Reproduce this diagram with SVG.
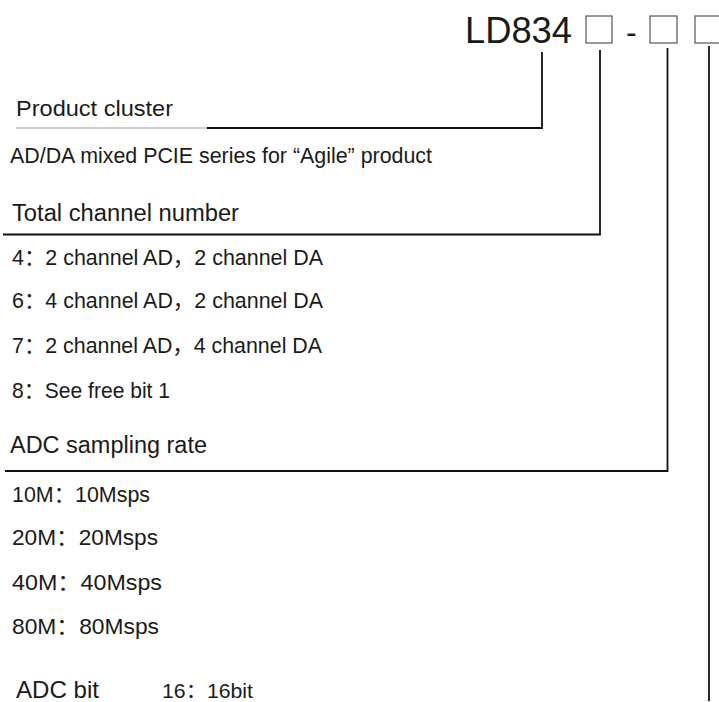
<svg xmlns="http://www.w3.org/2000/svg" width="719" height="702" viewBox="0 0 719 702">
<style>
  .t { font-family: "Liberation Sans", "Noto Sans CJK SC", sans-serif; fill: #1a1a1a; font-size: 22px; }
  .h { font-size: 23px; }
  .b { font-size: 24px; }
  .s { font-size: 20px; }
  .title { font-family: "Liberation Sans", "Noto Sans CJK SC", sans-serif; fill: #1a1a1a; font-size: 36px; }
  .box { fill: none; stroke: #555; stroke-width: 1.2; }
  .conn { fill: none; stroke: #111; stroke-width: 1.8; }
  .thin { fill: none; stroke: #888; stroke-width: 0.8; }
</style>
<rect width="719" height="702" fill="#fff"/>
<g id="code">
  <text class="title" x="465" y="43" textLength="107" lengthAdjust="spacingAndGlyphs">LD834</text>
  <rect class="box" x="586" y="16" width="26" height="27"/>
  <text class="title" x="626" y="43" style="font-size:32px">-</text>
  <rect class="box" x="650" y="16" width="27" height="27"/>
  <rect class="box" x="695" y="16" width="30" height="27"/>
</g>
<g id="connectors">
  <path class="conn" d="M542,52 V128 H207"/>
  <path class="thin" d="M16,128 H207"/>
  <path class="conn" d="M600,50 V234.5 H3"/>
  <path class="conn" d="M667.5,48 V471 H5"/>
  <path class="conn" d="M709,46 V701"/>
</g>
<g id="product-cluster">
  <text class="t" x="16" y="116" textLength="157" lengthAdjust="spacingAndGlyphs">Product cluster</text>
  <text class="t" x="10" y="163" textLength="422" lengthAdjust="spacingAndGlyphs">AD/DA mixed PCIE series for “Agile” product</text>
</g>
<g id="total-channel">
  <text class="t h" x="12" y="221" textLength="227" lengthAdjust="spacingAndGlyphs">Total channel number</text>
  <text class="t" x="12" y="265" textLength="311" lengthAdjust="spacingAndGlyphs">4：2 channel AD，2 channel DA</text>
  <text class="t" x="12" y="308" textLength="311" lengthAdjust="spacingAndGlyphs">6：4 channel AD，2 channel DA</text>
  <text class="t" x="12" y="353" textLength="310" lengthAdjust="spacingAndGlyphs">7：2 channel AD，4 channel DA</text>
  <text class="t" x="12" y="398" textLength="158" lengthAdjust="spacingAndGlyphs">8：See free bit 1</text>
</g>
<g id="adc-rate">
  <text class="t h" x="10" y="453" textLength="197" lengthAdjust="spacingAndGlyphs">ADC sampling rate</text>
  <text class="t" x="12" y="502" textLength="138" lengthAdjust="spacingAndGlyphs">10M：10Msps</text>
  <text class="t" x="12" y="545" textLength="146" lengthAdjust="spacingAndGlyphs">20M：20Msps</text>
  <text class="t" x="12" y="590" textLength="150" lengthAdjust="spacingAndGlyphs">40M：40Msps</text>
  <text class="t" x="12" y="634" textLength="147" lengthAdjust="spacingAndGlyphs">80M：80Msps</text>
</g>
<g id="adc-bit">
  <text class="t b" x="16" y="698" textLength="83" lengthAdjust="spacingAndGlyphs">ADC bit</text>
  <text class="t s" x="162" y="698" textLength="91" lengthAdjust="spacingAndGlyphs">16：16bit</text>
</g>
</svg>
